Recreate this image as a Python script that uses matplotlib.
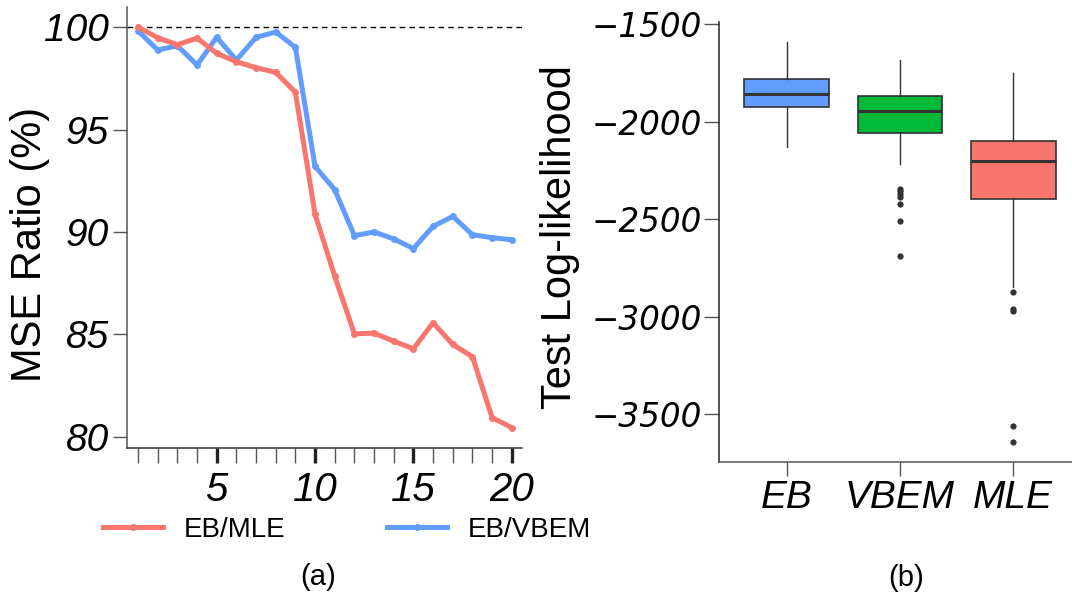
import numpy as np
import matplotlib
matplotlib.use("Agg")
import matplotlib.pyplot as plt
from matplotlib.lines import Line2D

plt.rcParams['font.family'] = ['Liberation Sans', 'DejaVu Sans']

# --- data: panel (a) MSE ratio ---
n_steps = list(range(1, 21))
eb_mle = [100.0, 99.48, 99.14, 99.46, 98.72, 98.31, 98.02, 97.79, 96.82, 90.86,
          87.84, 85.03, 85.06, 84.67, 84.30, 85.57, 84.51, 83.91, 80.94, 80.45]
eb_vbem = [99.82, 98.88, 99.09, 98.15, 99.50, 98.39, 99.50, 99.76, 99.01, 93.20,
           92.06, 89.82, 90.00, 89.66, 89.19, 90.27, 90.76, 89.87, 89.72, 89.62]
series_names = ["EB/MLE", "EB/VBEM"]
ratio_ticks = [80, 85, 90, 95, 100]
step_major = [5, 10, 15, 20]

# --- data: panel (b) test log-likelihood boxplots ---
methods = ["EB", "VBEM", "MLE"]
q1 = [-1927, -2058, -2398]
med = [-1859, -1947, -2200]
q3 = [-1782, -1870, -2098]
whislo = [-2129, -2219, -2846]
whishi = [-1594, -1683, -1753]
fliers = [[],
          [-2345, -2357, -2371, -2385, -2421, -2511, -2687],
          [-2874, -2962, -2969, -3558, -3641]]
ll_ticks = [-1500, -2000, -2500, -3000, -3500]

red = '#F8766D'
blue = '#619CFF'
green = '#00BA38'
dark = '#333333'

W, H = 1072, 596
fig = plt.figure(figsize=(W / 100, H / 100), dpi=100)

# ---------------- panel (a) ----------------
ax1 = fig.add_axes([127 / W, 1 - 447.7 / H, 395 / W, (447.7 - 7) / H])
ax1.axhline(100, color='black', lw=1.0, ls=(0, (4, 3)), zorder=1)
ax1.plot(n_steps, eb_mle, color=red, lw=3.6, marker='o', ms=4, solid_capstyle='butt', zorder=3)
ax1.plot(n_steps, eb_vbem, color=blue, lw=3.6, marker='o', ms=4, solid_capstyle='butt', zorder=2)
ax1.set_xlim(0.44, 20.52)
ax1.set_ylim(79.47, 100.98)

ax1.set_yticks(ratio_ticks, labels=[str(v) for v in ratio_ticks], fontsize=28, fontstyle='italic')
ax1.set_xticks(step_major, labels=[str(v) for v in step_major], fontsize=29, fontstyle='italic')
ax1.set_xticks([v for v in n_steps if v not in step_major], minor=True)
ax1.tick_params(axis='y', length=10, width=1.0, color='#555555', pad=3)
ax1.tick_params(axis='x', which='major', length=11, width=2.4, color='#222222', pad=6)
ax1.tick_params(axis='x', which='minor', length=11, width=1.0, color='#555555')
for side in ['top', 'right']:
    ax1.spines[side].set_visible(False)
ax1.spines['left'].set_color('#555555')
ax1.spines['left'].set_linewidth(1.1)
ax1.spines['bottom'].set_color('#333333')
ax1.spines['bottom'].set_linewidth(1.1)

fig.text(30 / W, 1 - 244 / H, "MSE Ratio (%)", rotation=90, ha='center', va='center', fontsize=30)

handles = [Line2D([], [], color=red, lw=3.6, marker='o', ms=4),
           Line2D([], [], color=blue, lw=3.6, marker='o', ms=4)]
fig.legend(handles, series_names, ncol=2, loc='center', bbox_to_anchor=(347 / W, 1 - 530 / H),
           frameon=False, fontsize=20, handlelength=2.15, handletextpad=0.75, columnspacing=3.65)
fig.text(318 / W, 1 - 577 / H, "(a)", ha='center', va='center', fontsize=21)

# ---------------- panel (b) ----------------
ax2 = fig.add_axes([719 / W, 1 - 461.5 / H, (W - 719) / W, (461.5 - 21.7) / H])
stats = []
for i, m in enumerate(methods):
    stats.append(dict(label=m, med=med[i], q1=q1[i], q3=q3[i],
                      whislo=whislo[i], whishi=whishi[i], fliers=fliers[i]))
bp = ax2.bxp(stats, positions=[1, 2, 3], widths=0.75, patch_artist=True, showcaps=False,
             boxprops=dict(edgecolor=dark, linewidth=1.2),
             medianprops=dict(color=dark, linewidth=2.2),
             whiskerprops=dict(color=dark, linewidth=1.0),
             flierprops=dict(marker='o', markerfacecolor=dark, markeredgecolor='none', markersize=4.5))
for patch, c in zip(bp['boxes'], [blue, green, red]):
    patch.set_facecolor(c)

ax2.set_xlim(0.4, 3.52)
ax2.set_ylim(-3741, -1488)
ax2.set_xticks([1, 2, 3], labels=methods, fontsize=28, fontstyle='italic')
ax2.set_yticks(ll_ticks, labels=['\u2212' + str(-v) for v in ll_ticks],
               fontsize=23.5, fontstyle='oblique', family='DejaVu Sans')
ax2.tick_params(axis='y', length=11, width=1.0, color='#555555', pad=1)
ax2.tick_params(axis='x', length=10, width=1.0, color='#555555', pad=3)
for side in ['top', 'right']:
    ax2.spines[side].set_visible(False)
ax2.spines['left'].set_color('#222222')
ax2.spines['left'].set_linewidth(1.1)
ax2.spines['bottom'].set_color('#555555')
ax2.spines['bottom'].set_linewidth(1.1)

fig.text(560 / W, 1 - 237 / H, "Test Log-likelihood", rotation=90, ha='center', va='center', fontsize=30)
fig.text(906 / W, 1 - 578 / H, "(b)", ha='center', va='center', fontsize=21)

fig.savefig("out.png", dpi=100)
